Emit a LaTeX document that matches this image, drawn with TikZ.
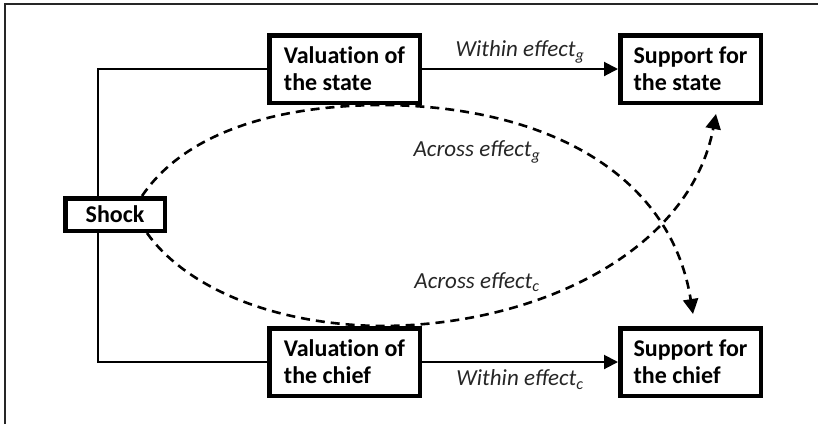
\documentclass[tikz,border=0pt]{standalone}
\usepackage{fontspec}
\setmainfont{Carlito}
\newfontfamily\boxfont{Carlito}[Ligatures=NoCommon]
\usetikzlibrary{arrows.meta}
\begin{document}
\begin{tikzpicture}[x=1pt,y=-1pt,
  box/.style={draw, line width=4.5pt, align=left, inner sep=0pt,
    font=\boxfont\fontsize{24}{27}\selectfont\bfseries},
  valbox/.style={box, minimum width=150.5pt, minimum height=67.5pt},
  supbox/.style={box, minimum width=140.5pt, minimum height=67.5pt},
  shockbox/.style={box, minimum width=99.5pt, minimum height=32.5pt},
  lbl/.style={font=\fontsize{23}{26}\selectfont\itshape, text=black!85, inner sep=0pt},
  conn/.style={line width=2pt},
  solidarrow/.style={conn, -{Triangle[length=14pt,width=14pt]}},
  dasharrow/.style={line width=2.6pt, dash pattern=on 9pt off 6pt,
    -{Triangle[length=15pt,width=15pt]}}
]
\useasboundingbox (0,0) rectangle (818,424);
\draw[line width=1.5pt, black!85] (5,424) -- (5,4) -- (818,4);

\node[valbox] (vs) at (344.5,69) {Valuation of\\the state};
\node[supbox] (ss) at (690.5,69) {Support for\\the state};
\node[shockbox] (sh) at (115,214.5) {Shock};
\node[valbox] (vc) at (344.5,362) {Valuation of\\the chief};
\node[supbox] (sc) at (690.5,362) {Support for\\the chief};

\coordinate (sj) at (98,0);
\draw[conn] (vs.west) -| (sj |- sh.north);
\draw[conn] (vc.west) -| (sj |- sh.south);

\draw[solidarrow] (vs.east) -- (ss.west)
  node[lbl, midway, above=5pt] (wg) {Within effect\textsubscript{g}};
\draw[solidarrow] (vc.east) -- (sc.west)
  node[lbl, midway, below=7pt] (wc) {Within effect\textsubscript{c}};

\draw[dasharrow] ([xshift=27pt]sh.north)
  .. controls (180,140) and (260,106) .. ([xshift=35pt]vs.south)
  .. controls (540,105) and (670,170) .. ([xshift=2.5pt,yshift=12pt]sc.north);
\draw[dasharrow] ([xshift=32pt]sh.south)
  .. controls (180,280) and (260,324) .. ([xshift=35pt]vc.north)
  .. controls (540,326) and (690,250) .. ([xshift=25.5pt,yshift=-9pt]ss.south);

\node[lbl] (ag) at (477,152) {Across effect\textsubscript{g}};
\node[lbl] (ac) at (477,282) {Across effect\textsubscript{c}};
\end{tikzpicture}
\end{document}
